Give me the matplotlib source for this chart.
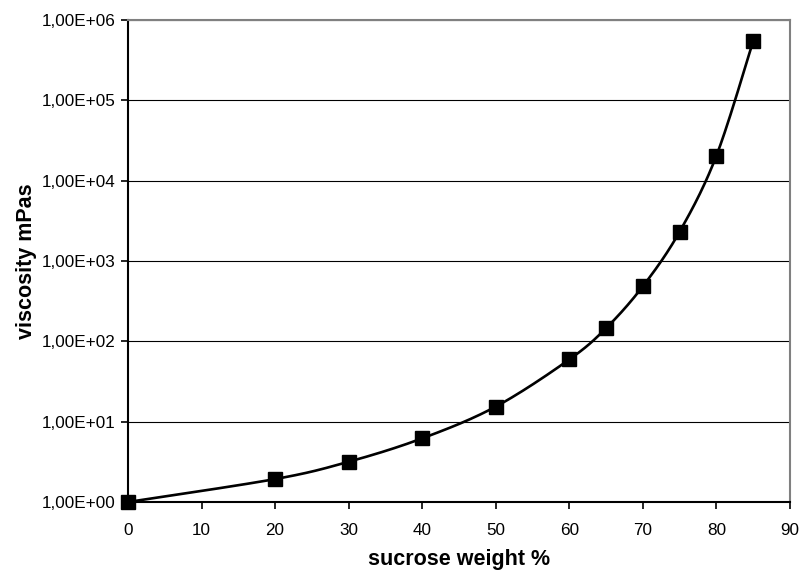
import numpy as np
import matplotlib.pyplot as plt
from matplotlib.ticker import FuncFormatter, FixedLocator

plt.rcParams['font.family'] = ['Liberation Sans', 'DejaVu Sans']

# sucrose solution viscosity
weight = [0, 20, 30, 40, 50, 60, 65, 70, 75, 80, 85]
viscosity = [1.0, 1.93, 3.17, 6.2, 15.4, 59.5, 146, 485, 2320, 20500, 548000]

# smoothed line (Excel style bezier) in screen-like space: x and log10(y)
k = 10.92
px = np.array(weight, dtype=float)
py = np.log10(viscosity) * k
pts = np.column_stack([px, py])
ext = np.vstack([pts[0], pts, pts[-1]])
curve = []
t = np.linspace(0, 1, 30)[:, None]
for i in range(len(pts) - 1):
    p0 = ext[i + 1]
    p3 = ext[i + 2]
    c1 = p0 + (ext[i + 2] - ext[i]) / 6
    c2 = p3 - (ext[i + 3] - ext[i + 1]) / 6
    seg = (1 - t) ** 3 * p0 + 3 * (1 - t) ** 2 * t * c1 + 3 * (1 - t) * t ** 2 * c2 + t ** 3 * p3
    curve.append(seg)
curve = np.vstack(curve)
sx = curve[:, 0]
sy = 10 ** (curve[:, 1] / k)

fig = plt.figure(figsize=(8.03, 5.72), dpi=100)
ax = fig.add_axes([128 / 803, 1 - 502 / 572, 662 / 803, 482 / 572])

ax.plot(sx, sy, color='black', lw=1.9, zorder=3, clip_on=False)
ax.plot(weight, viscosity, 's', color='black', ms=10.5, zorder=4, clip_on=False)

ax.set_yscale('log')
ax.set_xlim(0, 90)
ax.set_ylim(1, 1e6)
ax.set_xticks(range(0, 91, 10))
ax.yaxis.set_major_locator(FixedLocator([10.0 ** e for e in range(0, 7)]))
ax.yaxis.set_minor_locator(FixedLocator([]))
ax.yaxis.set_major_formatter(FuncFormatter(lambda v, p: ('%.2E' % v).replace('.', ',')))

ax.grid(axis='y', color='black', lw=0.8)
ax.set_axisbelow(True)
for s in ['top', 'right']:
    ax.spines[s].set_color('#808080')
    ax.spines[s].set_linewidth(1.5)
for s in ['left', 'bottom']:
    ax.spines[s].set_color('black')
    ax.spines[s].set_linewidth(1.5)
ax.tick_params(axis='both', direction='out', length=5, width=1.2, labelsize=12.3)
ax.tick_params(axis='x', pad=10)
ax.tick_params(axis='y', pad=4)

ax.set_xlabel('sucrose weight %', fontsize=15.5, fontweight='bold', va='center')
ax.set_ylabel('viscosity mPas', fontsize=15.5, fontweight='bold', va='center')
ax.xaxis.set_label_coords(0.5, -57 / 482)
ax.yaxis.set_label_coords(-101 / 662, 0.5)

fig.savefig('out.png', dpi=100)
